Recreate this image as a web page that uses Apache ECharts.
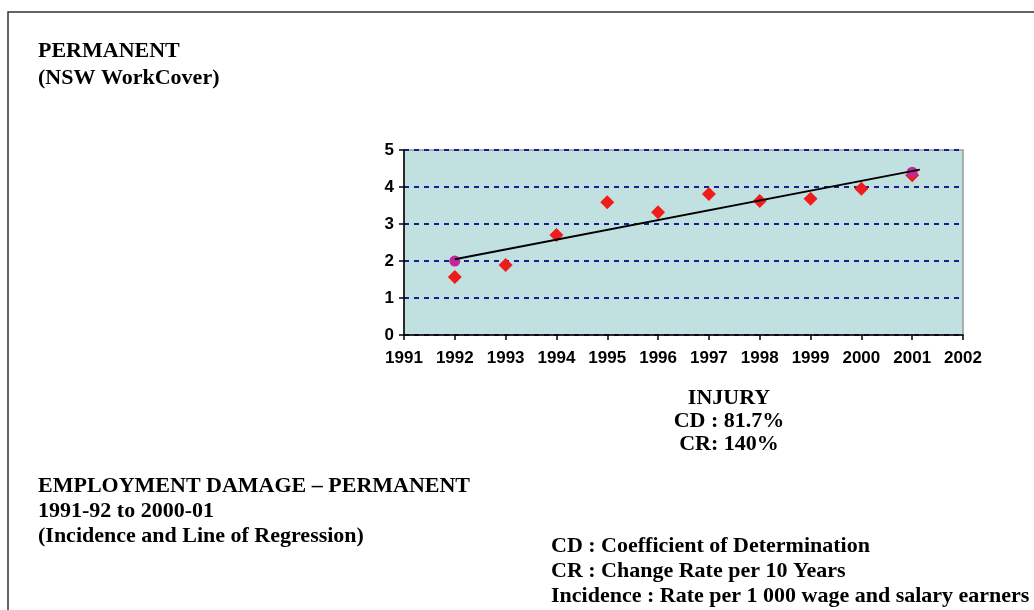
<!DOCTYPE html>
<html>
<head>
<meta charset="utf-8">
<script src="https://cdn.jsdelivr.net/npm/echarts@6/dist/echarts.min.js"></script>
<style>html,body{margin:0;padding:0;background:#fff;}#c{width:1034px;height:610px;}</style>
</head>
<body>
<div id="c"></div>
<script>
const years = [1992, 1993, 1994, 1995, 1996, 1997, 1998, 1999, 2000, 2001];
const incidence = [1.57, 1.89, 2.70, 3.59, 3.32, 3.81, 3.62, 3.68, 3.95, 4.32];
const endpointYears = [1992, 2001];
const endpointValues = [2.0, 4.4];
const regressionX = [1992, 2001.15];
const regressionY = [2.05, 4.47];
const xTickMin = 1991, xTickMax = 2002;
const yTickMin = 0, yTickMax = 5;

const serif = '"Liberation Serif","Times New Roman",serif';
const sans = '"Liberation Sans",Arial,sans-serif';

const chart = echarts.init(document.getElementById('c'));
function txt(x, y, s, align) {
  return {type:'text', x:x, y:y, style:{text:s, font:'bold 22px ' + serif, fill:'#000', textAlign:align||'left', textVerticalAlign:'middle'}};
}
chart.setOption({
  animation:false,
  backgroundColor:'#fff',
  grid:{left:404, top:150, width:559, height:185, show:true, backgroundColor:'#C0E1DF', borderColor:'#9a9a9a', borderWidth:1.5},
  xAxis:{type:'value', min:xTickMin, max:xTickMax, interval:1,
    axisLine:{lineStyle:{color:'#000', width:1.5}},
    axisTick:{show:true, length:5, lineStyle:{color:'#000', width:1.5}},
    axisLabel:{color:'#000', fontFamily:sans, fontWeight:'bold', fontSize:17, margin:15, formatter:v=>String(v)},
    splitLine:{show:false}},
  yAxis:{type:'value', min:yTickMin, max:yTickMax, interval:1,
    axisLine:{show:true, lineStyle:{color:'#000', width:1.5}},
    axisTick:{show:true, length:5, lineStyle:{color:'#000', width:1.5}},
    axisLabel:{color:'#000', fontFamily:sans, fontWeight:'bold', fontSize:17, margin:10},
    splitLine:{show:true, lineStyle:{color:'#1c1c8e', width:2, type:[5,5]}}},
  series:[
    {type:'scatter', symbol:'diamond', symbolSize:14, itemStyle:{color:'#F01C1C', opacity:1},
      data:years.map((y,i)=>[y, incidence[i]]), z:3},
    {type:'scatter', symbol:'circle', symbolSize:11, itemStyle:{color:'#C0289A', opacity:1},
      data:endpointYears.map((y,i)=>[y, endpointValues[i]]), z:4},
    {type:'line', symbol:'none', lineStyle:{color:'#000', width:2},
      data:regressionX.map((x,i)=>[x, regressionY[i]]), z:5}
  ],
  graphic:[
    {type:'polyline', shape:{points:[[8,610],[8,12],[1034,12]]}, style:{stroke:'#333', lineWidth:1.5, fill:null}},
    txt(38, 51, 'PERMANENT'),
    txt(38, 78, '(NSW WorkCover)'),
    txt(729, 398, 'INJURY', 'center'),
    txt(729, 421, 'CD : 81.7%', 'center'),
    txt(729, 444, 'CR: 140%', 'center'),
    txt(38, 486, 'EMPLOYMENT DAMAGE \u2013 PERMANENT'),
    txt(38, 511, '1991-92 to 2000-01'),
    txt(38, 536, '(Incidence and Line of Regression)'),
    txt(551, 546, 'CD : Coefficient of Determination'),
    txt(551, 571, 'CR : Change Rate per 10 Years'),
    txt(551, 596, 'Incidence : Rate per 1 000 wage and salary earners')
  ]
});
</script>
</body>
</html>
